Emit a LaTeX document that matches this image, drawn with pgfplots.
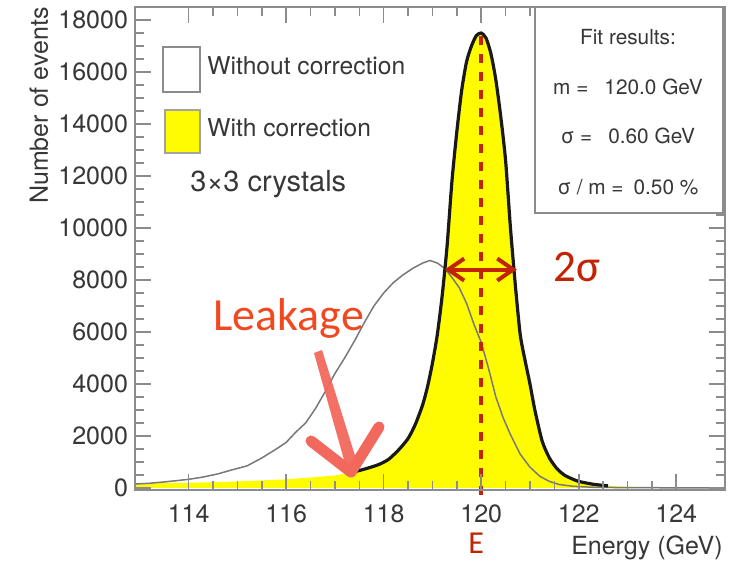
\documentclass[border=0pt]{standalone}
\usepackage{fontspec}
\setmainfont{TeX Gyre Heros}
\newfontfamily\calib{Carlito}
\usepackage{pgfplots}
\usepackage{pgfplotstable}
\pgfplotsset{compat=1.18}
\usetikzlibrary{arrows.meta}

\definecolor{histyellow}{RGB}{255,252,0}
\definecolor{annored}{RGB}{195,35,5}
\definecolor{leakred}{RGB}{242,72,32}
\definecolor{leakarrow}{RGB}{242,104,92}
\definecolor{framegray}{RGB}{140,140,140}
\definecolor{txtgray}{RGB}{55,55,55}
\definecolor{histgray}{RGB}{120,120,120}

% Energy spectrum without leakage correction (3x3 crystals)
\pgfplotstableread{
E N
112.9 150
113.2 180
113.5 230
113.8 290
114.0 330
114.3 420
114.6 540
114.9 700
115.2 850
115.5 1150
115.8 1500
116.0 1750
116.2 2150
116.4 2500
116.6 3050
116.8 3700
117.0 4400
117.2 5000
117.4 5650
117.6 6350
117.8 7000
118.0 7500
118.2 7900
118.4 8200
118.6 8450
118.8 8650
118.95 8750
119.1 8650
119.25 8450
119.4 8100
119.55 7700
119.7 7100
119.85 6300
120.0 5600
120.15 4600
120.3 3500
120.45 2700
120.6 2050
120.8 1300
121.0 800
121.2 450
121.4 250
121.6 130
121.9 60
122.3 25
123.0 10
124.0 5
125.0 0
}\withoutcorr

% Energy spectrum with leakage correction
\pgfplotstableread{
E N
112.9 170
113.5 190
114.0 200
114.5 220
115.0 250
115.5 290
116.0 330
116.5 400
117.0 480
117.3 580
117.6 720
117.9 900
118.1 1100
118.3 1450
118.5 1900
118.65 2450
118.8 3200
118.9 3900
119.0 4800
119.1 5900
119.2 7400
119.3 9300
119.4 11800
119.5 13700
119.6 15300
119.7 16400
119.8 17000
119.9 17400
120.0 17500
120.1 17300
120.2 16700
120.3 15700
120.4 14300
120.5 12600
120.6 10000
120.7 7800
120.8 5900
120.9 4900
121.0 4000
121.1 3000
121.25 1800
121.4 1150
121.55 750
121.7 500
121.85 360
122.0 250
122.3 140
122.6 80
123.0 45
123.5 25
124.0 15
125.0 5
}\withcorr

\begin{document}
\begin{tikzpicture}
\useasboundingbox (-67.5pt,-36pt) rectangle (298.5pt,245pt);
\begin{axis}[
  at={(0pt,0pt)}, anchor=south west,
  scale only axis, width=295pt, height=241.5pt,
  xmin=112.9, xmax=125, ymin=-80, ymax=18500,
  xtick={114,116,...,124}, ytick={0,2000,...,18000},
  minor x tick num=3, minor y tick num=3,
  tick align=inside, tick pos=both,
  major tick length=8pt, minor tick length=4.5pt,
  scaled y ticks=false,
  yticklabel style={/pgf/number format/1000 sep={}},
  /pgf/number format/assume math mode=true,
  ticklabel style={font=\fontsize{12.5}{15}\selectfont, text=txtgray},
  xticklabel style={inner sep=0pt, yshift=-7.2pt},
  axis line style={framegray, line width=1pt},
  every tick/.style={framegray, line width=0.8pt},
  axis on top,
  clip=false,
  xlabel={Energy (GeV)},
  xlabel style={at={(axis description cs:0.9966,-0.1325)}, anchor=base east,
    inner sep=0pt, font=\fontsize{12.5}{15}\selectfont, text=txtgray},
  ylabel={Number of events},
  ylabel style={at={(axis description cs:-0.1475,1)}, anchor=base east,
    inner sep=0pt, font=\fontsize{12.5}{15}\selectfont, text=txtgray},
]
% corrected spectrum, filled
\addplot[fill=histyellow, draw=none] table[x=E, y=N] {\withcorr} \closedcycle;
% uncorrected spectrum
\addplot[histgray, line width=0.75pt] table[x=E, y=N] {\withoutcorr};
% fitted line shape over the corrected spectrum
\addplot[black!90, line width=1.6pt, smooth, tension=0.4,
  restrict x to domain=117.2:122.8] table[x=E, y=N] {\withcorr};

% peak position and width markers
\draw[annored, line width=2pt, dash pattern=on 4.5pt off 4.5pt]
  (axis cs:120,17400) -- (axis cs:120,-460);
\draw[annored, line width=2pt,
  {Straight Barb[length=8pt,width=11pt]}-{Straight Barb[length=8pt,width=11pt]}]
  (axis cs:119.25,8400) -- (axis cs:120.73,8400);
\end{axis}

% annotations placed in picture pixels
\begin{scope}[x=0.5pt, y=-0.5pt, shift={(-67.5pt,245pt)}]
  % legend
  \draw[framegray, line width=1pt, fill=white] (163,47) rectangle (200,92);
  \draw[framegray!80, line width=0.8pt, fill=histyellow] (165,110) rectangle (200,153);
  \node[anchor=base west, inner sep=0pt, text=txtgray,
    font=\fontsize{12.3}{15}\selectfont] at (207,75) {Without correction};
  \node[anchor=base west, inner sep=0pt, text=txtgray,
    font=\fontsize{12.3}{15}\selectfont] at (207,137) {With correction};
  \node[anchor=base west, inner sep=0pt, text=txtgray,
    font=\fontsize{14.5}{17}\selectfont] at (190,192) {3×3 crystals};

  % fit results box
  \draw[framegray, line width=1pt, fill=white] (535,7) rectangle (723,213);
  \begin{scope}[every node/.style={anchor=base, inner sep=0pt, text=txtgray,
      font=\fontsize{10.4}{12}\selectfont}]
    \node at (628,45) {Fit results:};
    \node at (628,95) {m =\hspace{8pt}120.0 GeV};
    \node at (628,144) {σ =\hspace{8pt}0.60 GeV};
    \node at (628,195) {σ / m =\hspace{5pt}0.50 \%};
  \end{scope}

  % leakage arrow
  \fill[leakarrow, opacity=0.95] (314,353) -- (322,350) -- (357,462) -- (346,467) -- cycle;
  \draw[leakarrow, line width=5.5pt, line cap=round, line join=round]
    (311,441) -- (351,472) -- (379,427);
  \node[anchor=base west, inner sep=0pt, text=leakred,
    font=\calib\fontsize{23}{26}\selectfont] at (213,330) {Leakage};
  \node[anchor=base west, inner sep=0pt, text=annored,
    font=\calib\fontsize{22.5}{26}\selectfont] at (553,282) {2σ};
  \node[anchor=base west, inner sep=0pt, text=annored,
    font=\calib\fontsize{16}{19}\selectfont] at (468,553) {E};
\end{scope}
\end{tikzpicture}
\end{document}
